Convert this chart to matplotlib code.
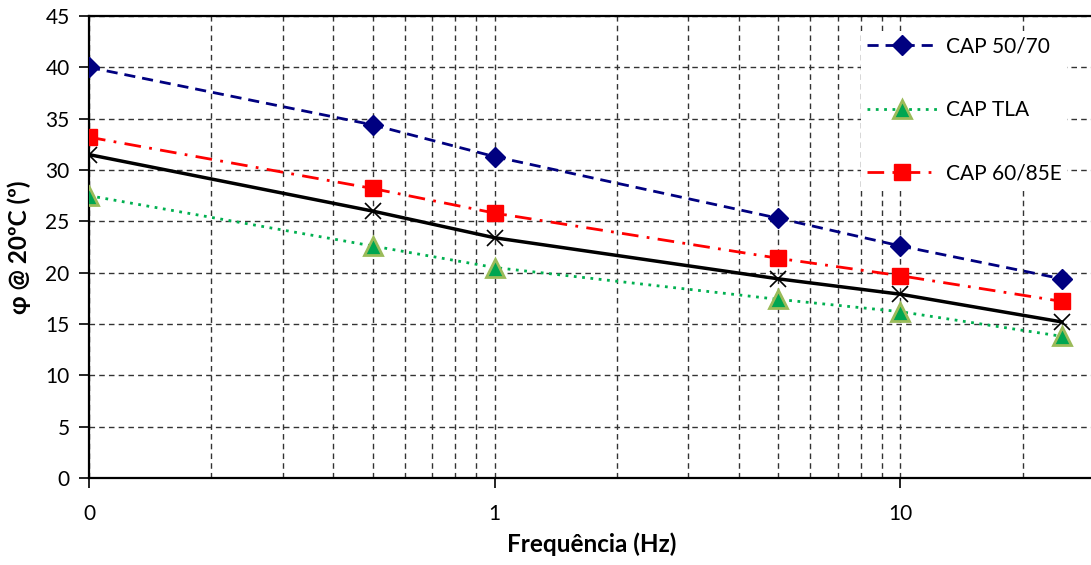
import matplotlib
matplotlib.use("Agg")
import matplotlib.pyplot as plt
from matplotlib.ticker import FixedLocator, FixedFormatter, NullFormatter

plt.rcParams['font.family'] = ['Lato', 'DejaVu Sans']

freq = [0.1, 0.5, 1, 5, 10, 25]
cap_50_70 = [40.0, 34.4, 31.3, 25.3, 22.6, 19.4]
cap_tla = [27.5, 22.6, 20.5, 17.4, 16.2, 13.8]
cap_60_85e = [33.2, 28.2, 25.8, 21.4, 19.7, 17.2]
reference = [31.5, 26.0, 23.4, 19.4, 17.9, 15.2]

x_major = [0.1, 1, 10]
x_major_labels = ["0", "1", "10"]
x_minor = [0.2, 0.3, 0.4, 0.5, 0.6, 0.7, 0.8, 0.9,
           2, 3, 4, 5, 6, 7, 8, 9, 20]

fig = plt.figure(figsize=(10.91, 5.65), dpi=100)
ax = fig.add_axes([89/1091, 87/565, 1005/1091, 462/565])

ax.set_xscale('log')
ax.set_xlim(0.1, 30)
ax.set_ylim(0, 45)
ax.set_yticks(range(0, 46, 5))

ax.xaxis.set_major_locator(FixedLocator(x_major))
ax.xaxis.set_major_formatter(FixedFormatter(x_major_labels))
ax.xaxis.set_minor_locator(FixedLocator(x_minor))
ax.xaxis.set_minor_formatter(NullFormatter())

grid_style = dict(color='#333333', linestyle=(0, (4, 3)), linewidth=1.0)
ax.grid(True, which='both', axis='x', **grid_style)
ax.grid(True, which='major', axis='y', **grid_style)
ax.set_axisbelow(True)

ax.tick_params(axis='both', which='major', direction='out', length=7, width=1.2,
               labelsize=15, colors='black', pad=7)
ax.tick_params(axis='x', which='major', pad=12, length=7)
ax.tick_params(axis='x', which='minor', length=0)
for side in ['left', 'bottom', 'top']:
    ax.spines[side].set_linewidth(1.6)
ax.spines['right'].set_visible(False)

l1, = ax.plot(freq, cap_50_70, color='#000080', linestyle=(0, (4, 2.5)), linewidth=2,
              marker='D', markersize=10, markerfacecolor='#000080', markeredgecolor='#000080',
              label='CAP 50/70', zorder=4)
l2, = ax.plot(freq, cap_tla, color='#00B050', linestyle=(0, (1, 2)), linewidth=2,
              marker='^', markersize=13, markerfacecolor='#00A651', markeredgecolor='#9BBB59',
              markeredgewidth=2, label='CAP TLA', zorder=4)
l3, = ax.plot(freq, cap_60_85e, color='#FF0000', linestyle=(0, (6, 3, 1, 3)), linewidth=2,
              marker='s', markersize=12, markerfacecolor='#FF0000', markeredgecolor='#FF0000',
              label='CAP 60/85E', zorder=4)
ax.plot(freq, reference, color='black', linestyle='-', linewidth=2.5,
        marker='x', markersize=11, markeredgewidth=1.2, zorder=5)

leg = ax.legend(handles=[l1, l2, l3], loc='upper left',
                bbox_to_anchor=(762/1005, 0.99), frameon=True, fontsize=15,
                handlelength=3.4, labelspacing=2.1, borderpad=0.25, handletextpad=0.4,
                fancybox=False, framealpha=1.0, edgecolor='white')
leg.get_frame().set_linewidth(0)

ax.set_ylabel('φ @ 20ºC (º)', fontsize=17.5, fontweight='bold', labelpad=10)
ax.set_xlabel('Frequência (Hz)', fontsize=17.5, fontweight='bold', labelpad=6)

fig.savefig('out.png', dpi=100)
